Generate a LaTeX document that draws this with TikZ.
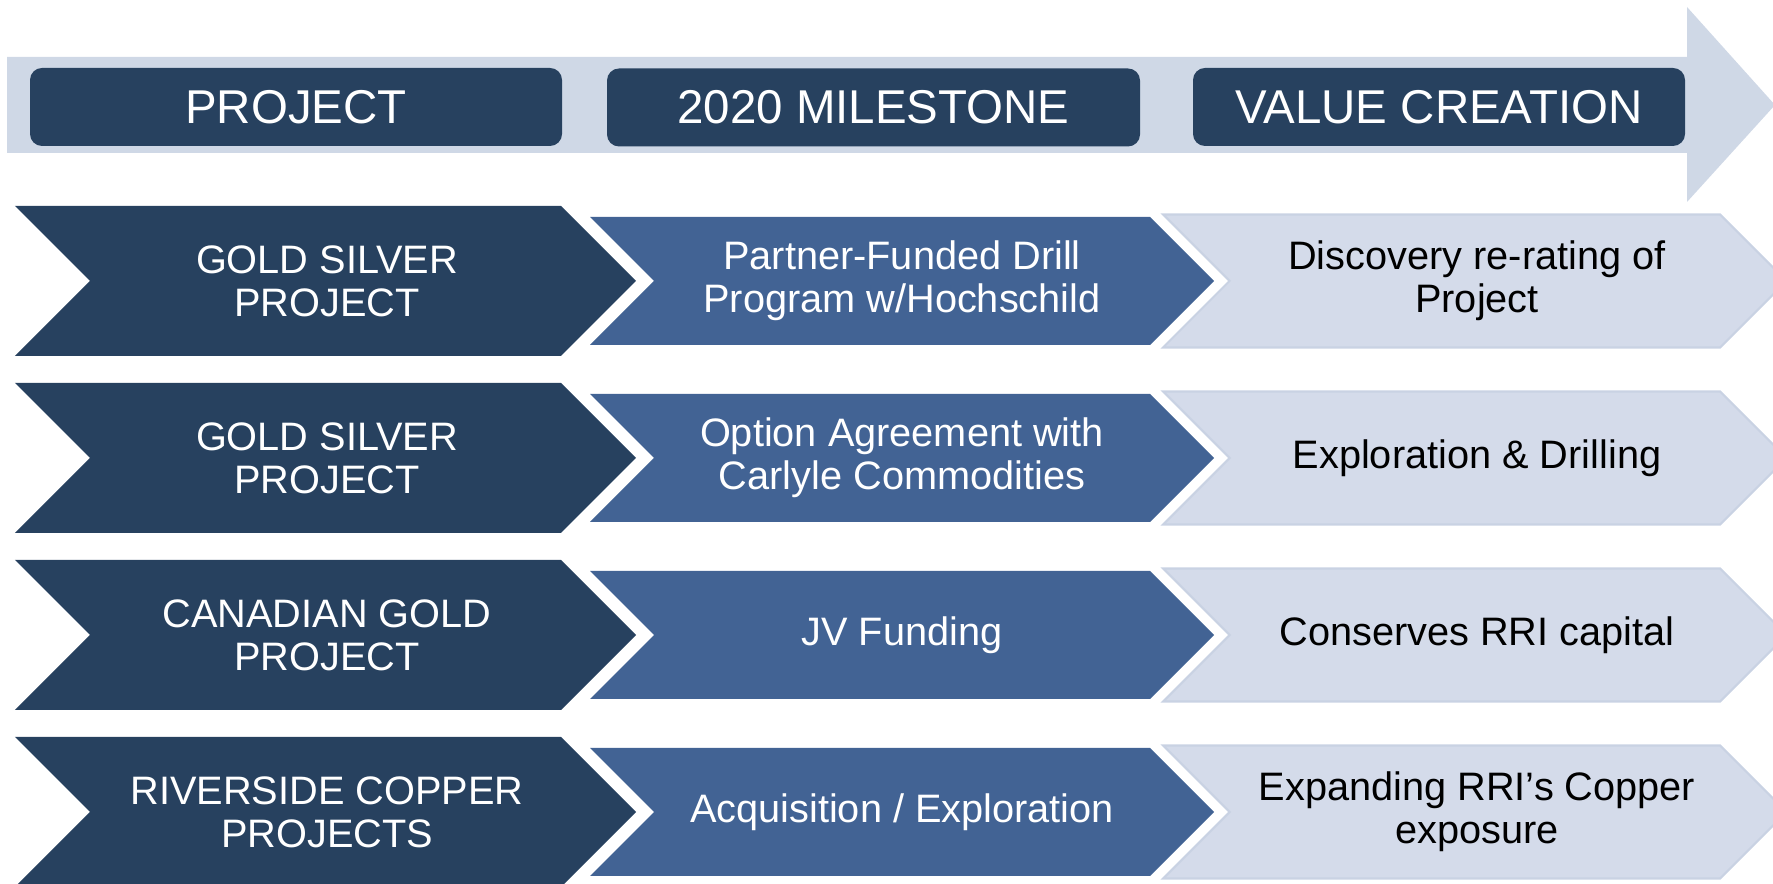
\documentclass[tikz,border=0pt]{standalone}
\usepackage{fontspec}
\setmainfont{Liberation Sans}
\usepackage{tikz}
\definecolor{navy}{HTML}{27415F}
\definecolor{midblue}{HTML}{426394}
\definecolor{pale}{HTML}{D4DBEA}
\definecolor{paleedge}{HTML}{C9D2E3}
\definecolor{band}{HTML}{CFD8E6}
\tikzset{
  head/.style={fill=navy, rounded corners=0.12cm, text=white, inner sep=0pt,
    minimum height=0.78cm, font=\fontsize{13.5}{16}\selectfont},
  darkchev/.style={fill=navy},
  midchev/.style={fill=midblue},
  palechev/.style={fill=pale, draw=paleedge, line width=0.6pt},
  labw/.style={text=white, align=center, font=\fontsize{11.3}{12.2}\selectfont},
  labk/.style={text=black, align=center, font=\fontsize{11.3}{12.2}\selectfont}
}
% style, left x, corner x, mid y, half height
\newcommand{\chevron}[5]{\path[#1] (#2,#4+#5) -- (#3,#4+#5) -- (#3+#5,#4)
  -- (#3,#4-#5) -- (#2,#4-#5) -- (#2+#5,#4) -- cycle;}

\begin{document}
\begin{tikzpicture}
  \clip (0,0) rectangle (17.73,8.84);
  % header band
  \fill[band] (0.07,8.27) -- (16.87,8.27) -- (16.87,8.77) -- (17.75,7.79)
    -- (16.87,6.82) -- (16.87,7.31) -- (0.07,7.31) -- cycle;
  \node[head, minimum width=5.32cm] (hproj) at (2.96,7.77) {PROJECT};
  \node[head, minimum width=5.33cm] (hmile) at (8.735,7.765) {2020 MILESTONE};
  \node[head, minimum width=4.92cm] (hval) at (14.39,7.77) {VALUE CREATION};
  % rows
  \foreach \y in {6.03,4.26,2.49,0.72} {
    \chevron{darkchev}{0.15}{5.61}{\y}{0.75}
    \chevron{midchev}{5.90}{11.50}{\y}{0.64}
    \chevron{palechev}{11.63}{17.20}{\y}{0.665}
  }
  \node[labw] (proj1) at (3.27,6.03) {GOLD SILVER\\PROJECT};
  \node[labw] (mile1) at (9.02,6.03) {Partner-Funded Drill\\Program w/Hochschild};
  \node[labk] (val1) at (14.77,6.03) {Discovery re-rating of\\Project};
  \node[labw] (proj2) at (3.27,4.26) {GOLD SILVER\\PROJECT};
  \node[labw] (mile2) at (9.02,4.26) {Option Agreement with\\Carlyle Commodities};
  \node[labk] (val2) at (14.77,4.26) {Exploration \& Drilling};
  \node[labw] (proj3) at (3.27,2.49) {CANADIAN GOLD\\PROJECT};
  \node[labw] (mile3) at (9.02,2.49) {JV Funding};
  \node[labk] (val3) at (14.77,2.49) {Conserves RRI capital};
  \node[labw] (proj4) at (3.27,0.72) {RIVERSIDE COPPER\\PROJECTS};
  \node[labw] (mile4) at (9.02,0.72) {Acquisition / Exploration};
  \node[labk] (val4) at (14.77,0.72) {Expanding RRI’s Copper\\exposure};
\end{tikzpicture}
\end{document}
